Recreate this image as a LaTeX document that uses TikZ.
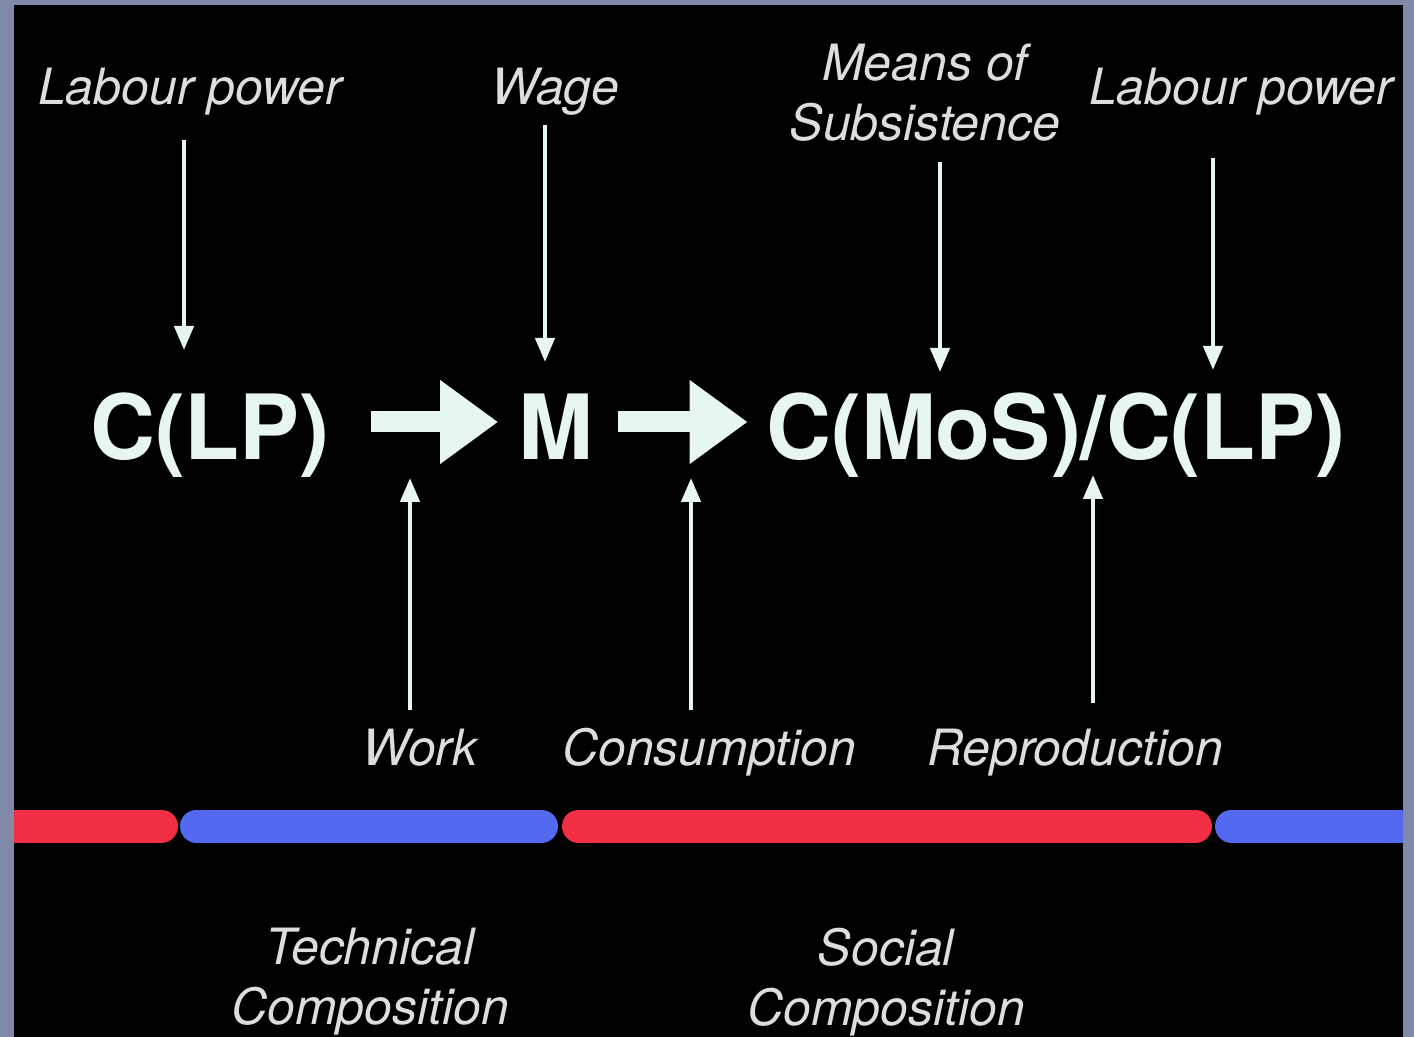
\documentclass[tikz,border=0pt]{standalone}
\usepackage{fontspec}
\setmainfont{TeX Gyre Heros}
\usepackage{xcolor}
\usetikzlibrary{arrows.meta}

\definecolor{framegray}{HTML}{8189A9}
\definecolor{barred}{HTML}{F02E44}
\definecolor{barblue}{HTML}{5369F0}
\definecolor{chalk}{HTML}{E8F6F2}
\definecolor{labelgray}{HTML}{DCDDDC}

\begin{document}
\begin{tikzpicture}[x=0.5pt, y=-0.5pt,
    lbl/.style={text=labelgray, inner sep=0pt, anchor=base,
        font=\fontsize{25}{30}\selectfont\itshape},
    big/.style={text=chalk, inner sep=0pt, anchor=base,
        font=\fontsize{45}{50}\selectfont\bfseries},
    pointer/.style={draw=chalk, line width=2.2pt, -{Triangle[length=12pt,width=9.5pt]}},
    blockarr/.style={draw=chalk, line width=10.5pt, -{Triangle[length=29pt,width=40pt]}},
    bar/.style={line width=16.5pt, line cap=round}]
    %\draw[help lines] (0,0) grid (1414,1037);
    \useasboundingbox (0,0) rectangle (1414,1037);
    \fill[framegray] (0,0) rectangle (1414,1037);
    \fill[black] (14,5) rectangle (1403,1037);

    % top labels
    \node[lbl] (lpin) at (190,105) {Labour power};
    \node[lbl] (wage) at (555,105) {Wage};
    \node[lbl, anchor=north, align=center] (mos) at (925,44) {Means of\\Subsistence};
    \node[lbl] (lpout) at (1241,105) {Labour power};

    % circuit
    \node[big] (clp) at (210,460) {C(LP)};
    \node[big] (m) at (556,460) {M};
    \node[big] (cmos) at (1056,460) {C(MoS)/C(LP)};

    % bottom labels
    \node[lbl] (work) at (420,765) {Work};
    \node[lbl] (cons) at (709,765) {Consumption};
    \node[lbl] (repro) at (1075,765) {Reproduction};
    \node[lbl, anchor=north, align=center] (tech) at (370,928) {Technical\\Composition};
    \node[lbl, anchor=north, align=center] (social) at (886,928) {Social\\Composition};

    \coordinate (t1) at (184,140);   \coordinate (h1) at (184,350);
    \coordinate (t2) at (545,125);   \coordinate (h2) at (545,362);
    \coordinate (t3) at (940,162);   \coordinate (h3) at (940,372);
    \coordinate (t4) at (1213,158);  \coordinate (h4) at (1213,370);
    \coordinate (t5) at (410,710);   \coordinate (h5) at (410,478);
    \coordinate (t6) at (691,710);   \coordinate (h6) at (691,478);
    \coordinate (t7) at (1093,703);  \coordinate (h7) at (1093,475);

    \foreach \i in {1,...,7}
        \draw[pointer] (t\i) -- (h\i);

    \draw[blockarr, shorten <=20.5pt, shorten >=10pt]
        ([shift={(0,-38)}]clp.base east) -- ([shift={(0,-38)}]m.base west);
    \draw[blockarr, shorten <=12pt, shorten >=9pt]
        ([shift={(0,-38)}]m.base east) -- ([shift={(0,-38)}]cmos.base west);

    % composition bar
    \begin{scope}
        \clip (14,5) rectangle (1403,1037);
        \draw[bar, barred] (-20,826) -- (161.5,826);
        \draw[bar, barblue] (196.5,826) -- (541.5,826);
        \draw[bar, barred] (578.5,826) -- (1195.5,826);
        \draw[bar, barblue] (1231.5,826) -- (1440,826);
    \end{scope}
\end{tikzpicture}
\end{document}
